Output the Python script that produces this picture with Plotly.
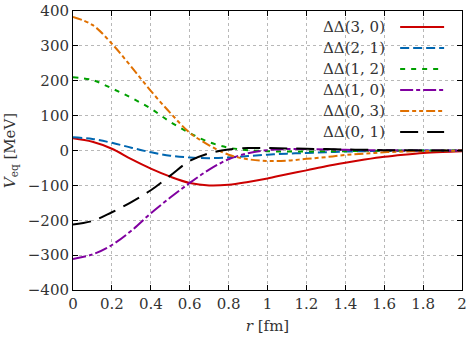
import plotly.graph_objects as go

# r grid [fm]
r = [0.0, 0.1, 0.2, 0.3, 0.4, 0.5, 0.6, 0.7, 0.8, 0.9, 1.0,
     1.1, 1.2, 1.3, 1.4, 1.5, 1.6, 1.7, 1.8, 1.9, 2.0]

# V_eq [MeV]
v_30 = [35, 25, 5, -25, -52, -75, -93, -100, -98, -90, -80,
        -68, -57, -45, -35, -26, -18, -12, -7, -4, -2]
v_21 = [38, 33, 22, 8, -5, -15, -20, -22, -20, -16, -12,
        -9, -7, -5, -3, -2, -1, -1, 0, 0, 0]
v_12 = [210, 202, 178, 151, 120, 82, 50, 24, 8, 1, -2,
        -3, -3, -2, -2, -1, -1, 0, 0, 0, 0]
v_10 = [-311, -298, -271, -230, -180, -135, -93, -55, -25, -8, 1,
        4, 4, 3, 2, 1, 1, 0, 0, 0, 0]
v_03 = [383, 360, 306, 240, 171, 108, 51, 15, -12, -25, -30,
        -29, -24, -19, -13, -9, -5, -3, -2, -1, 0]
v_01 = [-212, -202, -177, -148, -114, -72, -30, -8, 3, 7, 7,
        6, 5, 4, 3, 2, 1, 1, 0, 0, 0]

labels = ["ΔΔ(3, 0)", "ΔΔ(2, 1)", "ΔΔ(1, 2)", "ΔΔ(1, 0)", "ΔΔ(0, 3)", "ΔΔ(0, 1)"]
series = [v_30, v_21, v_12, v_10, v_03, v_01]
colors = ["#cc0000", "#0066b0", "#00a000", "#8000a0", "#e07000", "#000000"]
dashes = ["solid", "9px,4px", "5px,6px", "13px,3px,4px,3px",
          "9px,3px,4px,3px,4px,3px", "18px,9px"]

x_ticks = [0, 0.2, 0.4, 0.6, 0.8, 1, 1.2, 1.4, 1.6, 1.8, 2]
x_ticktext = ["0", "0.2", "0.4", "0.6", "0.8", "1", "1.2", "1.4", "1.6", "1.8", "2"]

font = "DejaVu Serif"

fig = go.Figure()
for lab, v, c, d in zip(labels, series, colors, dashes):
    fig.add_trace(go.Scatter(
        x=r, y=v, mode="lines", name=lab,
        line=dict(color=c, width=2, dash=d, shape="spline", smoothing=1.0),
        showlegend=False,
    ))

# hand-made legend: text on the left, line sample on the right
row0 = 0.943
step = 0.0753
for i, (lab, c, d) in enumerate(zip(labels, colors, dashes)):
    yy = row0 - i * step
    fig.add_annotation(x=0.807, y=yy, xref="paper", yref="paper", text=lab,
                       showarrow=False, xanchor="right", yanchor="middle",
                       font=dict(family=font, size=15, color="#333333"))
    fig.add_shape(type="line", xref="paper", yref="paper",
                  x0=0.841, x1=0.954, y0=yy, y1=yy,
                  line=dict(color=c, width=2, dash=d))

axis_common = dict(
    automargin=False,
    showline=True, linecolor="black", linewidth=1, mirror="allticks",
    ticks="inside", ticklen=5, tickcolor="black",
    showgrid=True, gridcolor="#b8b8b8", griddash="dot", gridwidth=1,
    zeroline=False,
    tickfont=dict(family=font, size=15, color="#333333"),
)

fig.update_layout(
    template="none",
    width=469, height=339,
    margin=dict(l=73, r=7, t=11, b=49),
    paper_bgcolor="white", plot_bgcolor="white",
    font=dict(family=font, color="#333333"),
    xaxis=dict(range=[0, 2], tickvals=x_ticks, ticktext=x_ticktext,
               title=dict(text="<i>r</i> [fm]", font=dict(family=font, size=15), standoff=8),
               **axis_common),
    yaxis=dict(range=[-400, 400], dtick=100,
               title=dict(text="<i>V</i><sub>eq</sub> [MeV]", font=dict(family=font, size=15), standoff=8),
               **axis_common),
)

fig.write_html("out.html", config={"displayModeBar": False},
               post_script="document.body.style.margin='0';")
